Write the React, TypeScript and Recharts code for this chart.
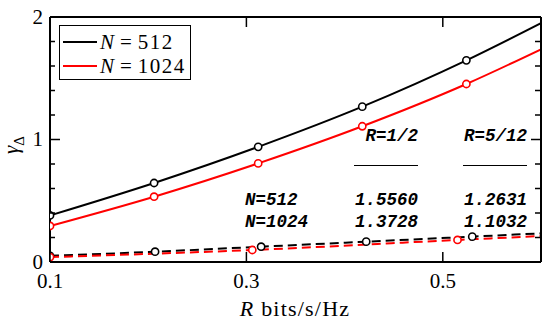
import React from 'react';
import { LineChart, Line, XAxis, YAxis, Legend, Customized } from 'recharts';

// rate R (bits/s/Hz) where the curves were sampled
const rSolid = [0.1, 0.206, 0.312, 0.418, 0.524, 0.6];
const gamma512 = [0.38, 0.645, 0.94, 1.268, 1.646, 1.95];
const gamma1024 = [0.294, 0.533, 0.805, 1.108, 1.453, 1.736];

const rDashed512 = [0.1, 0.207, 0.315, 0.422, 0.53, 0.6];
const gammaDashed512 = [0.05, 0.084, 0.125, 0.166, 0.207, 0.234];
const rDashed1024 = [0.1, 0.306, 0.515, 0.6];
const gammaDashed1024 = [0.04, 0.098, 0.18, 0.212];

const xTicks = [0.1, 0.3, 0.5];
const yTicks = [0, 0.2, 0.4, 0.6, 0.8, 1, 1.2, 1.4, 1.6, 1.8, 2];
const yLabelTicks = [0, 1, 2];

const legendNames = ['512', '1024'];
const legendColors = ['#000', '#ff0000'];

const rateHeaders = ['R=1/2', 'R=5/12'];
const rowLabels = ['N=512', 'N=1024'];
const rowValues = [
  ['1.5560', '1.2631'],
  ['1.3728', '1.1032'],
];

const toPoints = (xs: number[], ys: number[]) => xs.map((r, i) => ({ r, g: ys[i] }));

const solid512 = toPoints(rSolid, gamma512);
const solid1024 = toPoints(rSolid, gamma1024);
const dashed512 = toPoints(rDashed512, gammaDashed512);
const dashed1024 = toPoints(rDashed1024, gammaDashed1024);

const serif = 'Liberation Serif, DejaVu Serif, serif';
const mono = 'Liberation Mono, DejaVu Sans Mono, monospace';

const openDot = (color: string, n: number) => (props: any) => {
  const { cx, cy, index } = props;
  if (index === n - 1) return <g key={`e-${index}`} />;
  return <circle key={`d-${index}`} cx={cx} cy={cy} r={3.6} fill="#fff" stroke={color} strokeWidth={1.6} />;
};

const BottomTick = (p: any) => (
  <g>
    <line x1={p.x} x2={p.x} y1={p.y} y2={p.y - 10} stroke="#000" strokeWidth={1.5} />
    <text x={p.x} y={p.y + 26} textAnchor="middle" fontFamily={serif} fontSize={21} fill="#000">
      {p.payload.value}
    </text>
  </g>
);

const TopTick = (p: any) => (
  <line x1={p.x} x2={p.x} y1={p.y} y2={p.y + 10} stroke="#000" strokeWidth={1.5} />
);

const LeftTick = (p: any) => {
  const v = p.payload.value;
  const major = yLabelTicks.includes(v);
  return (
    <g>
      <line x1={p.x} x2={p.x + (major ? 10 : 5)} y1={p.y} y2={p.y} stroke="#000" strokeWidth={1.5} />
      {major && (
        <text x={p.x - 7} y={p.y + 6.5} textAnchor="end" fontFamily={serif} fontSize={21} fill="#000">
          {v}
        </text>
      )}
    </g>
  );
};

const RightTick = (p: any) => {
  const major = yLabelTicks.includes(p.payload.value);
  return <line x1={p.x} x2={p.x - (major ? 10 : 6)} y1={p.y} y2={p.y} stroke="#000" strokeWidth={1.5} />;
};

const YLabel = () => (
  <text transform="translate(18,145) rotate(-90)" textAnchor="middle" fontFamily={serif} fill="#000">
    <tspan fontSize={21} fontStyle="italic">γ</tspan>
    <tspan fontSize={15} dy={6}>Δ</tspan>
  </text>
);

const XLabel = () => (
  <text x={295} y={316} textAnchor="middle" fontFamily={serif} fontSize={22} fill="#000" letterSpacing={1.2}>
    <tspan fontStyle="italic">R</tspan> bits/s/Hz
  </text>
);

const LegendBox = () => (
  <div
    style={{
      border: '1.5px solid #000',
      background: '#fff',
      padding: '4px 4px 1px 3px',
      fontFamily: serif,
      fontSize: 21,
      lineHeight: '24px',
      color: '#000',
    }}
  >
    {legendNames.map((n, i) => (
      <div key={n} style={{ display: 'flex', alignItems: 'center', height: 24 }}>
        <svg width={34} height={4} style={{ display: 'block' }}>
          <line x1={0} x2={34} y1={2} y2={2} stroke={legendColors[i]} strokeWidth={2} />
        </svg>
        <span style={{ marginLeft: 3, whiteSpace: 'pre' }}>
          <i>N</i>
          <span style={{ margin: '0 6px' }}>=</span>
          <span style={{ letterSpacing: 1.5 }}>{n}</span>
        </span>
      </div>
    ))}
  </div>
);

const TableNote = () => {
  const colRight = [418, 527];
  const txt = { fontFamily: mono, fontSize: 17.5, fontStyle: 'italic' as const, fontWeight: 700, fill: '#000' };
  return (
    <g>
      {rateHeaders.map((h, j) => (
        <g key={h}>
          <text x={colRight[j]} y={141} textAnchor="end" {...txt}>{h}</text>
          <line x1={colRight[j] - 64} x2={colRight[j]} y1={165.5} y2={165.5} stroke="#000" strokeWidth={1} />
        </g>
      ))}
      {rowLabels.map((l, i) => (
        <g key={l}>
          <text x={245} y={205 + i * 22} {...txt}>{l}</text>
          {rowValues[i].map((v, j) => (
            <text key={j} x={colRight[j]} y={205 + i * 22} textAnchor="end" {...txt}>{v}</text>
          ))}
        </g>
      ))}
    </g>
  );
};

export default function App() {
  const axisLine = { stroke: '#000', strokeWidth: 2 };
  return (
    <div style={{ position: 'absolute', left: 0, top: 0, background: '#fff' }}>
      <LineChart width={550} height={329} margin={{ top: 0, right: 0, bottom: 0, left: 0 }}>
        <XAxis
          xAxisId="bottom"
          dataKey="r"
          type="number"
          domain={[0.1, 0.6]}
          allowDataOverflow
          ticks={xTicks}
          height={67}
          axisLine={axisLine}
          tickLine={false}
          tickSize={0}
          tickMargin={0}
          tick={BottomTick}
          label={<XLabel />}
        />
        <XAxis
          xAxisId="top"
          orientation="top"
          dataKey="r"
          type="number"
          domain={[0.1, 0.6]}
          allowDataOverflow
          ticks={xTicks}
          height={17}
          axisLine={axisLine}
          tickLine={false}
          tickSize={0}
          tickMargin={0}
          tick={TopTick}
        />
        <YAxis
          yAxisId="left"
          type="number"
          domain={[0, 2]}
          allowDataOverflow
          ticks={yTicks}
          interval={0}
          width={50}
          axisLine={axisLine}
          tickLine={false}
          tickSize={0}
          tickMargin={0}
          tick={LeftTick}
          label={<YLabel />}
        />
        <YAxis
          yAxisId="right"
          orientation="right"
          type="number"
          domain={[0, 2]}
          allowDataOverflow
          ticks={yTicks}
          interval={0}
          width={9}
          axisLine={axisLine}
          tickLine={false}
          tickSize={0}
          tickMargin={0}
          tick={RightTick}
        />
        <Legend
          layout="vertical"
          align="center"
          verticalAlign="middle"
          content={LegendBox}
          wrapperStyle={{ position: 'absolute', left: 59, top: 25, width: 'auto', height: 'auto' }}
        />
        <Line data={dashed512} dataKey="g" xAxisId="bottom" yAxisId="left" type="monotone" stroke="#000" strokeWidth={2} strokeDasharray="9 5" dot={openDot('#000', dashed512.length)} isAnimationActive={false} />
        <Line data={dashed1024} dataKey="g" xAxisId="top" yAxisId="right" type="monotone" stroke="#ff0000" strokeWidth={2} strokeDasharray="9 5" dot={openDot('#ff0000', dashed1024.length)} isAnimationActive={false} />
        <Line data={solid512} dataKey="g" xAxisId="bottom" yAxisId="left" type="monotone" stroke="#000" strokeWidth={2} dot={openDot('#000', solid512.length)} isAnimationActive={false} />
        <Line data={solid1024} dataKey="g" xAxisId="top" yAxisId="right" type="monotone" stroke="#ff0000" strokeWidth={2} dot={openDot('#ff0000', solid1024.length)} isAnimationActive={false} />
        <Customized component={TableNote} />
      </LineChart>
    </div>
  );
}
